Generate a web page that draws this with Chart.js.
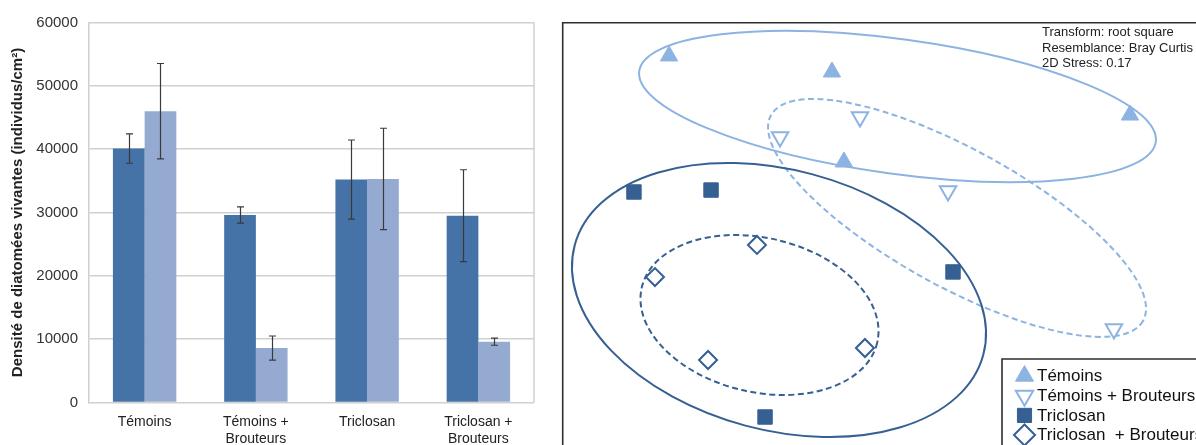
<!DOCTYPE html>
<html>
<head>
<meta charset="utf-8">
<script src="https://cdn.jsdelivr.net/npm/chart.js@4.4.1/dist/chart.umd.min.js"></script>
<style>
  html, body { margin: 0; padding: 0; background: #fff; }
  #wrap { position: relative; width: 1196px; height: 445px; overflow: hidden; }
  #bars { position: absolute; left: 0; top: 0; }
  #nmds { position: absolute; left: 560px; top: 0; }
</style>
</head>
<body>
<div id="wrap">
  <canvas id="bars" width="545" height="445"></canvas>
  <canvas id="nmds" width="636" height="445"></canvas>
</div>
<script>
// ---- Bar chart data: live diatom density (individuals/cm²) ----
const categories = [['Témoins'], ['Témoins +', 'Brouteurs'], ['Triclosan'], ['Triclosan +', 'Brouteurs']];
const densityDark = [40100, 29600, 35200, 29500];
const errorDark = [2320, 1290, 6250, 7250];
const densityLight = [46000, 8600, 35300, 9600];
const errorLight = [7530, 1900, 8000, 560];
const yTickValues = [0, 10000, 20000, 30000, 40000, 50000, 60000];

// ---- NMDS ordination data (axis 1, axis 2) ----
const temoinsX = [-1.273, -0.187, 1.800, -0.107];
const temoinsY = [1.127, 1.020, 0.733, 0.420];
const temoinsBrouteursX = [-0.533, 0.000, 0.587, 1.693];
const temoinsBrouteursY = [0.587, 0.720, 0.227, -0.693];
const triclosanX = [-1.507, -0.993, 0.620, -0.633];
const triclosanY = [0.220, 0.233, -0.313, -1.280];
const triclosanBrouteursX = [-0.687, -1.367, -1.013, 0.033];
const triclosanBrouteursY = [-0.133, -0.347, -0.900, -0.820];
const groupLabels = ['Témoins', 'Témoins + Brouteurs', 'Triclosan', 'Triclosan  + Brouteurs'];

// Group ellipses: centre, semi-axes and orientation (degrees) in ordination units
const ellipseCenterX = [0.250, 0.647, -0.540, -0.670];
const ellipseCenterY = [0.790, 0.047, -0.500, -0.600];
const ellipseSemiMajor = [1.738, 1.417, 1.410, 0.806];
const ellipseSemiMinor = [0.449, 0.457, 0.867, 0.514];
const ellipseAngle = [-7.8, -28.9, -15.0, -13.2];

const statLines = ['Transform: root square', 'Resemblance: Bray Curtis', '2D Stress: 0.17'];

const FONT = '"Liberation Sans", Arial, Helvetica, sans-serif';
Chart.defaults.font.family = FONT;
Chart.defaults.color = '#222';

const DARK = '#4572A7';
const LIGHT = '#95AAD0';
const MK_LIGHT = '#8DB3E2';
const MK_DARK = '#366092';

function zip(xs, ys) { return xs.map((x, i) => ({ x: x, y: ys[i] })); }

// ---------- Bar chart ----------
const errorBars = {
  id: 'errorBars',
  afterDatasetsDraw(chart) {
    const ctx = chart.ctx;
    const ys = chart.scales.y;
    ctx.save();
    ctx.strokeStyle = '#3a3a3a';
    ctx.lineWidth = 1.2;
    chart.data.datasets.forEach((ds, i) => {
      const meta = chart.getDatasetMeta(i);
      meta.data.forEach((bar, j) => {
        const v = ds.data[j], e = ds.errors[j];
        const yHi = ys.getPixelForValue(v + e);
        const yLo = ys.getPixelForValue(v - e);
        const x = Math.round(bar.x) + 0.5;
        ctx.beginPath();
        ctx.moveTo(x, yHi); ctx.lineTo(x, yLo);
        ctx.moveTo(x - 3.5, yHi); ctx.lineTo(x + 3.5, yHi);
        ctx.moveTo(x - 3.5, yLo); ctx.lineTo(x + 3.5, yLo);
        ctx.stroke();
      });
    });
    ctx.restore();
  }
};

const plotFrame = {
  id: 'plotFrame',
  beforeDatasetsDraw(chart) {
    const a = chart.chartArea, ctx = chart.ctx;
    ctx.save();
    ctx.strokeStyle = '#d0d0d0';
    ctx.lineWidth = 1.5;
    ctx.beginPath();
    ctx.moveTo(a.right, a.top); ctx.lineTo(a.right, a.bottom);
    ctx.stroke();
    ctx.restore();
  }
};

new Chart(document.getElementById('bars'), {
  type: 'bar',
  data: {
    labels: categories,
    datasets: [
      { label: 'A', data: densityDark, errors: errorDark, backgroundColor: DARK, borderWidth: 0 },
      { label: 'B', data: densityLight, errors: errorLight, backgroundColor: LIGHT, borderWidth: 0 }
    ]
  },
  options: {
    responsive: false,
    animation: false,
    events: [],
    categoryPercentage: 0.57,
    barPercentage: 1.0,
    layout: { padding: { top: 22.5, right: 11, left: 0, bottom: 0 } },
    plugins: { legend: { display: false }, tooltip: { enabled: false } },
    scales: {
      x: {
        grid: { display: false },
        border: { display: false },
        ticks: { font: { size: 14 }, color: '#222', padding: 3, maxRotation: 0, autoSkip: false },
        afterFit(scale) { scale.height = 42.5; }
      },
      y: {
        min: 0, max: 60000,
        afterBuildTicks(scale) { scale.ticks = yTickValues.map(v => ({ value: v })); },
        grid: { color: '#d0d0d0', lineWidth: 1.5, drawTicks: false },
        border: { color: '#d0d0d0', width: 1.5 },
        ticks: { font: { size: 15 }, color: '#333', padding: 11, callback: v => String(v) },
        title: {
          display: true,
          text: 'Densité de diatomées vivantes (individus/cm²)',
          font: { size: 15, weight: 'bold' },
          color: '#222',
          padding: { top: 9, bottom: 0 }
        },
        afterFit(scale) { scale.width = 89; }
      }
    }
  },
  plugins: [errorBars, plotFrame]
});

// ---------- NMDS ordination ----------
const ellipseStyle = [
  { color: MK_LIGHT, dash: [] },
  { color: MK_LIGHT, dash: [6, 3.5] },
  { color: MK_DARK, dash: [] },
  { color: MK_DARK, dash: [6, 3.5] }
];

const groupEllipses = {
  id: 'groupEllipses',
  beforeDatasetsDraw(chart) {
    const ctx = chart.ctx, xs = chart.scales.x, ys = chart.scales.y;
    ctx.save();
    ellipseCenterX.forEach((cxv, i) => {
      const cx = xs.getPixelForValue(cxv);
      const cy = ys.getPixelForValue(ellipseCenterY[i]);
      const rx = Math.abs(xs.getPixelForValue(cxv + ellipseSemiMajor[i]) - cx);
      const ry = Math.abs(ys.getPixelForValue(ellipseCenterY[i] + ellipseSemiMinor[i]) - cy);
      ctx.strokeStyle = ellipseStyle[i].color;
      ctx.lineWidth = 2;
      ctx.setLineDash(ellipseStyle[i].dash);
      ctx.beginPath();
      ctx.ellipse(cx, cy, rx, ry, -ellipseAngle[i] * Math.PI / 180, 0, Math.PI * 2);
      ctx.stroke();
    });
    ctx.restore();
  }
};

function drawMarker(ctx, ds, x, y, radius) {
  ctx.save();
  ctx.fillStyle = ds.backgroundColor;
  ctx.strokeStyle = ds.borderColor;
  ctx.lineWidth = ds.borderWidth;
  Chart.helpers.drawPoint(ctx, {
    pointStyle: ds.pointStyle,
    rotation: ds.rotation || 0,
    radius: radius,
    borderWidth: ds.borderWidth
  }, x, y);
  ctx.restore();
}

const panelDecor = {
  id: 'panelDecor',
  afterDraw(chart) {
    const ctx = chart.ctx, W = chart.width, H = chart.height;
    ctx.save();
    // outer frame (top and left edges visible)
    ctx.strokeStyle = '#2e2e2e';
    ctx.lineWidth = 1.6;
    ctx.beginPath();
    ctx.moveTo(2.7, H + 2); ctx.lineTo(2.7, 22.7); ctx.lineTo(W + 2, 22.7);
    ctx.stroke();

    // stress / settings note
    ctx.fillStyle = '#222';
    ctx.font = '13px ' + FONT;
    ctx.textBaseline = 'middle';
    ctx.textAlign = 'left';
    statLines.forEach((t, i) => ctx.fillText(t, 482, 32.5 + i * 15.5));

    // legend box
    ctx.fillStyle = '#fff';
    ctx.fillRect(442, 359, W - 442 + 2, H - 359 + 2);
    ctx.strokeStyle = '#2e2e2e';
    ctx.lineWidth = 1.6;
    ctx.beginPath();
    ctx.moveTo(442, H + 2); ctx.lineTo(442, 359); ctx.lineTo(W + 2, 359);
    ctx.stroke();

    const rowY = [376, 395.7, 415.4, 435];
    const legRadius = [10.4, 10, 10, 10.5];
    chart.data.datasets.forEach((ds, i) => {
      drawMarker(ctx, ds, 464.5, rowY[i], legRadius[i]);
      ctx.fillStyle = '#111';
      ctx.font = '17px ' + FONT;
      ctx.textBaseline = 'middle';
      ctx.fillText(ds.label, 477, rowY[i] + 0.5);
    });
    ctx.restore();
  }
};

new Chart(document.getElementById('nmds'), {
  type: 'scatter',
  data: {
    datasets: [
      { label: groupLabels[0], data: zip(temoinsX, temoinsY), pointStyle: 'triangle',
        backgroundColor: MK_LIGHT, borderColor: MK_LIGHT, borderWidth: 1, pointRadius: 10 },
      { label: groupLabels[1], data: zip(temoinsBrouteursX, temoinsBrouteursY), pointStyle: 'triangle', rotation: 180,
        backgroundColor: '#fff', borderColor: MK_LIGHT, borderWidth: 2, pointRadius: 9.5 },
      { label: groupLabels[2], data: zip(triclosanX, triclosanY), pointStyle: 'rect',
        backgroundColor: MK_DARK, borderColor: MK_DARK, borderWidth: 1, pointRadius: 10.2 },
      { label: groupLabels[3], data: zip(triclosanBrouteursX, triclosanBrouteursY), pointStyle: 'rectRot',
        backgroundColor: '#fff', borderColor: MK_DARK, borderWidth: 2, pointRadius: 9 }
    ]
  },
  options: {
    responsive: false,
    animation: false,
    events: [],
    layout: { padding: 0, autoPadding: false },
    plugins: { legend: { display: false }, tooltip: { enabled: false } },
    scales: {
      x: { type: 'linear', display: false, min: -2.0, max: 2.24 },
      y: { type: 'linear', display: false, min: -1.4667, max: 1.5 }
    }
  },
  plugins: [groupEllipses, panelDecor]
});
</script>
</body>
</html>
